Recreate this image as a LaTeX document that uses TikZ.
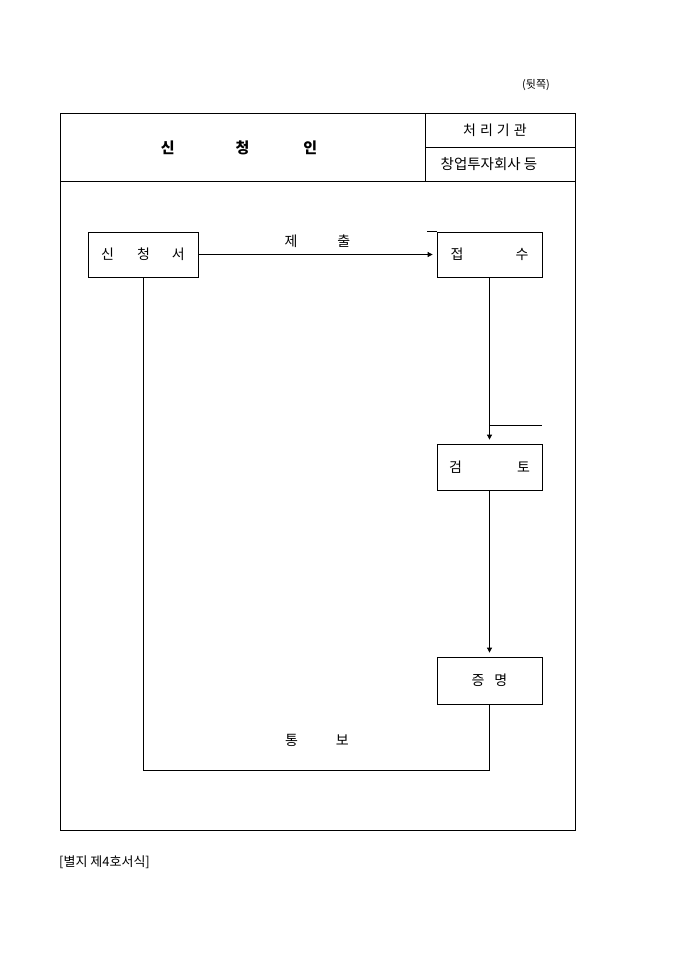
\documentclass[tikz,border=0pt]{standalone}
\usepackage{fontspec}
\setmainfont{Noto Sans CJK KR}
\usetikzlibrary{arrows.meta}
\tikzset{
    stepbox/.style={draw, line width=0.8pt, inner sep=0pt, font=\fontsize{14}{16}\selectfont},
    flow/.style={line width=0.8pt, -{Triangle[length=5pt,width=5pt]}, shorten >=4pt},
    plain/.style={line width=0.8pt},
    lbl/.style={font=\fontsize{14}{16}\selectfont}
}

\begin{document}
\begin{tikzpicture}[x=1pt,y=-1pt]
\useasboundingbox (0,0) rectangle (680,962);
% outer form
\draw[plain] (60,113) rectangle (575,830);
\draw[plain] (60,181) -- (575,181);
\draw[plain] (425,113) -- (425,181);
\draw[plain] (425,147) -- (575,147);
\node[font=\fontsize{15}{17}\selectfont\bfseries] (title) at (239,148) {신\hspace{61pt}청\hspace{54pt}인};
\node[lbl] (office) at (495,130) {처\hspace{4pt}리\hspace{4pt}기\hspace{4pt}관};
\node[font=\fontsize{14.5}{17}\selectfont] (company) at (489,164) {창업투자회사 등};
\node[font=\fontsize{11}{13}\selectfont] (back) at (536,85) {(뒷쪽)};
\node[font=\fontsize{13}{15}\selectfont, anchor=west, inner sep=0pt] (formno) at (59,862) {[별지 제4호서식]};
% boxes
\node[stepbox, minimum width=110pt, minimum height=45pt] (sincheong) at (143,254.5) {신\hspace{23pt}청\hspace{22pt}서};
\node[stepbox, minimum width=105pt, minimum height=45pt] (jeopsu) at (489.5,254.5) {접\hspace{52pt}수};
\node[stepbox, minimum width=105pt, minimum height=46pt] (geomto) at (489.5,467) {검\hspace{55pt}토};
\node[stepbox, minimum width=105pt, minimum height=47pt] (jeungmyeong) at (489.5,680.5) {증\hspace{10pt}명};
\draw[plain] (jeopsu.north west) -- ++(-10,0);
% connectors
\draw[flow] (sincheong) -- node[lbl, above=3pt] (submit) {제\hspace{40pt}출} (jeopsu);
\draw[flow] (jeopsu) -- (geomto);
\coordinate (branchend) at (542,425);
\draw[plain] (jeopsu.south |- branchend) -- (branchend);
\draw[flow] (geomto) -- (jeungmyeong);
\coordinate (retn) at (143,770);
\draw[plain] (jeungmyeong.south) |- (retn) -- (sincheong.south);
\node[lbl] (notify) at (317,740) {통\hspace{38pt}보};
\end{tikzpicture}
\end{document}
